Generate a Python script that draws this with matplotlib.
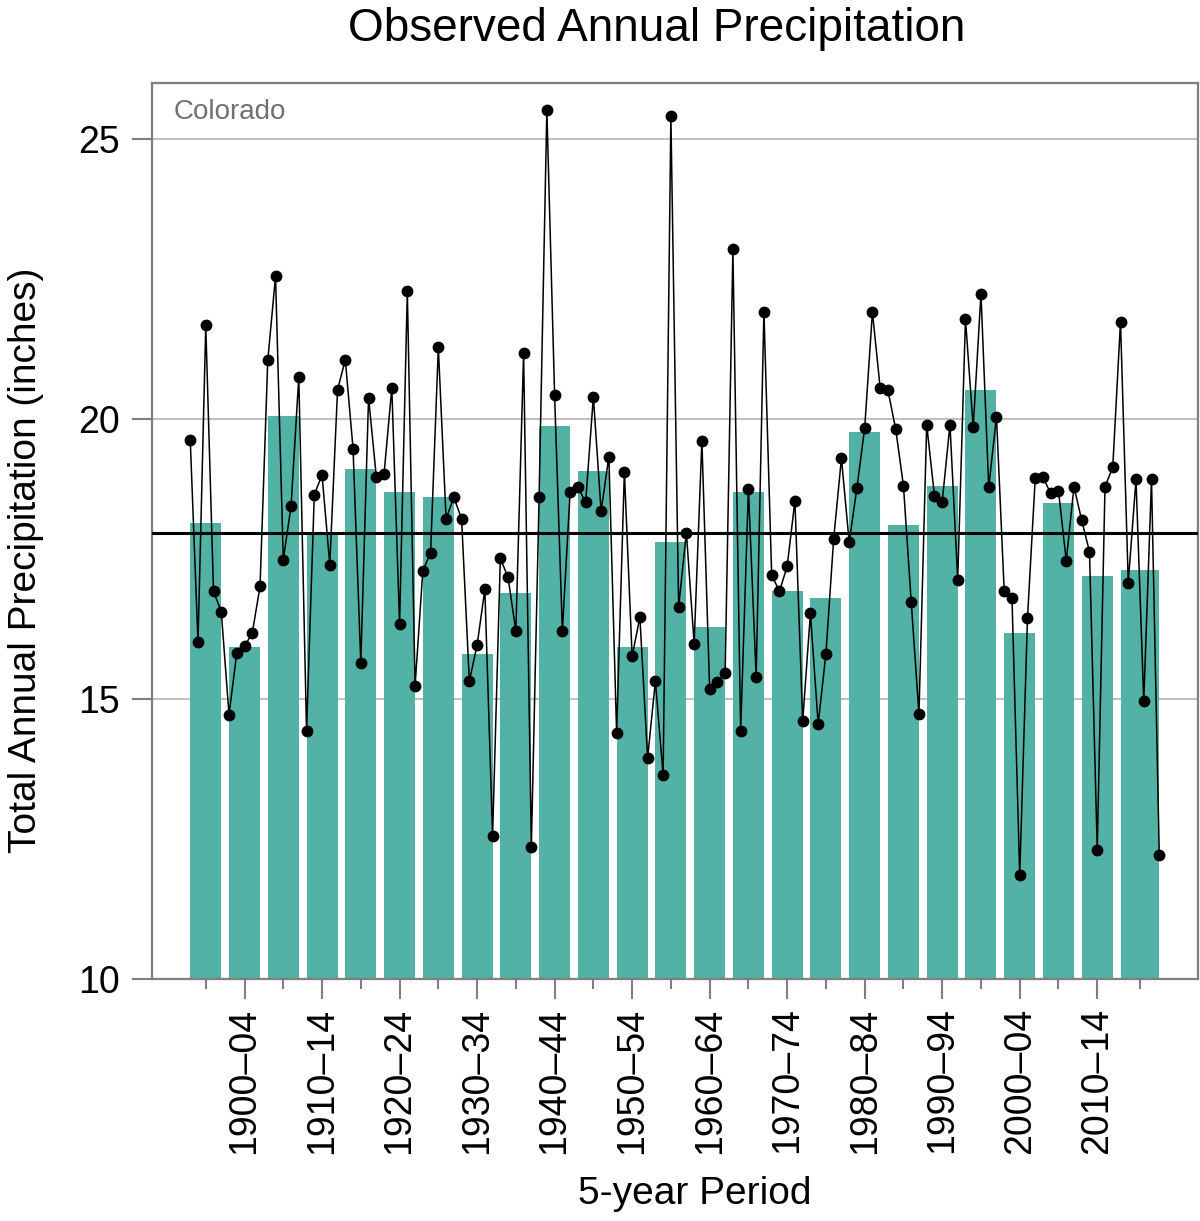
import matplotlib.pyplot as plt
import numpy as np

plt.rcParams['font.family'] = ['Liberation Sans', 'DejaVu Sans']

# annual totals, 1895-2020 (inches)
years = list(range(1895, 2021))
annualPrecip = [
    19.62, 16.01, 21.67, 16.92, 16.56,
    14.72, 15.82, 15.94, 16.18, 17.01,
    21.05, 22.55, 17.49, 18.44, 20.75,
    14.43, 18.65, 19.00, 17.40, 20.52,
    21.06, 19.47, 15.64, 20.38, 18.97,
    19.02, 20.56, 16.34, 22.28, 15.23,
    17.29, 17.61, 21.28, 18.22, 18.60,
    18.22, 15.32, 15.96, 16.96, 12.56,
    17.51, 17.17, 16.21, 21.17, 12.36,
    18.61, 25.52, 20.43, 16.21, 18.70,
    18.79, 18.51, 20.40, 18.35, 19.33,
    14.39, 19.06, 15.76, 16.46, 13.95,
    15.32, 13.64, 25.41, 16.65, 17.97,
    15.99, 19.61, 15.17, 15.30, 15.47,
    23.03, 14.42, 18.75, 15.40, 21.92,
    17.22, 16.92, 17.37, 18.54, 14.60,
    16.53, 14.55, 15.81, 17.86, 19.30,
    17.80, 18.77, 19.84, 21.91, 20.55,
    20.51, 19.82, 18.81, 16.74, 14.73,
    19.90, 18.63, 18.52, 19.90, 17.13,
    21.79, 19.85, 22.24, 18.78, 20.04,
    16.92, 16.81, 11.85, 16.44, 18.94,
    18.96, 18.67, 18.72, 17.47, 18.79,
    18.19, 17.63, 12.31, 18.79, 19.14,
    21.74, 17.08, 18.92, 14.96, 18.92,
    12.22,
]

# 5-year period averages
periodStart = list(range(1895, 2020, 5))
periodEnd = [s + 4 for s in periodStart[:-1]] + [2020]
periodLabels = ['1895–99', '1900–04', '1905–09', '1910–14', '1915–19',
                '1920–24', '1925–29', '1930–34', '1935–39', '1940–44',
                '1945–49', '1950–54', '1955–59', '1960–64', '1965–69',
                '1970–74', '1975–79', '1980–84', '1985–89', '1990–94',
                '1995–99', '2000–04', '2005–09', '2010–14', '2015–20']
periodMeans = [18.14, 15.93, 20.05, 17.92, 19.10,
               18.69, 18.61, 15.80, 16.89, 19.88,
               19.08, 15.92, 17.80, 16.29, 18.70,
               16.92, 16.80, 19.77, 18.11, 18.81,
               20.52, 16.18, 18.50, 17.20, 17.30]
longTermAvg = 17.96

barColor = '#53b2a6'
axisGray = '#7f7f7f'


def main():
    fig = plt.figure(figsize=(12, 12.21), dpi=100)
    ax = fig.add_axes([0.12625, 0.1982, 0.8721, 0.7338])

    widths = [e - s for s, e in zip(periodStart, periodEnd)]
    ax.bar(periodStart, periodMeans, width=widths, align='edge',
           color=barColor, zorder=2)
    ax.axhline(longTermAvg, color='black', linewidth=2.2, zorder=3)
    ax.plot(years, annualPrecip, color='black', linewidth=1.1,
            marker='o', markersize=7.5, zorder=4)

    ax.set_xlim(1890, 2025)
    ax.set_ylim(10, 26)

    # labelled ticks every decade, short ticks for the others
    centers = [s + w / 2 for s, w in zip(periodStart, widths)]
    majorPos = [c for c, s in zip(centers, periodStart) if s % 10 == 0]
    majorLab = [l for l, s in zip(periodLabels, periodStart) if s % 10 == 0]
    minorPos = [c for c, s in zip(centers, periodStart) if s % 10 != 0]
    ax.set_xticks(majorPos)
    ax.set_xticklabels(majorLab, rotation=90, fontsize=27)
    ax.set_xticks(minorPos, minor=True)
    ax.set_yticks([10, 15, 20, 25])
    ax.tick_params(axis='y', labelsize=27, length=14.5, width=1.5,
                   color=axisGray, pad=8)
    ax.tick_params(axis='x', which='major', length=14.5, width=1.5,
                   color=axisGray, pad=6)
    ax.tick_params(axis='x', which='minor', length=7, width=1.5,
                   color=axisGray)

    ax.yaxis.grid(True, color='#c2c2c2', linewidth=1.5, zorder=0)
    ax.set_axisbelow(True)
    for sp in ax.spines.values():
        sp.set_color(axisGray)
        sp.set_linewidth(1.6)

    fig.text(174 / 1200, 1 - 112 / 1221, 'Colorado', fontsize=20,
             color='#707070', va='center', ha='left')

    fig.text(657 / 1200, 1 - 41 / 1221, 'Observed Annual Precipitation',
             ha='center', va='baseline', fontsize=33)
    fig.text(26 / 1200, 1 - 560 / 1221, 'Total Annual Precipitation (inches)',
             ha='center', va='center', rotation=90, fontsize=28)
    fig.text(695 / 1200, 1 - 1204 / 1221, '5-year Period',
             ha='center', va='baseline', fontsize=28)

    fig.savefig('out.png', dpi=100)


main()
